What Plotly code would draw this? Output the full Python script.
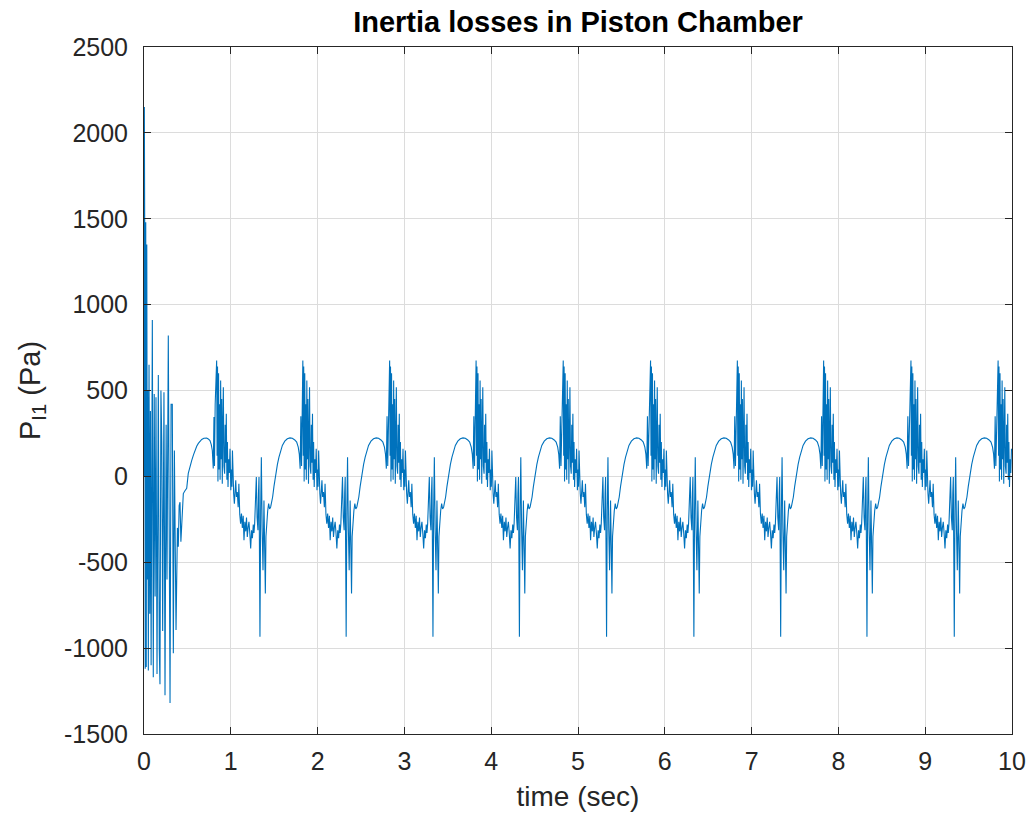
import plotly.graph_objects as go

# ---- start-up transient and the first rising arc ----
transient_t = [0.000, 0.004, 0.009, 0.014, 0.020, 0.026, 0.032, 0.038, 0.044, 0.050,
               0.058, 0.066, 0.074, 0.082, 0.096, 0.107, 0.118, 0.128, 0.138, 0.150,
               0.165, 0.176, 0.184, 0.195, 0.205, 0.215, 0.230, 0.242, 0.255, 0.265,
               0.280, 0.300, 0.312, 0.326, 0.338, 0.350, 0.369, 0.385, 0.395, 0.405,
               0.415, 0.425, 0.435, 0.445, 0.453, 0.470, 0.492, 0.510, 0.530, 0.550,
               0.570, 0.588, 0.607, 0.626, 0.645, 0.665, 0.690, 0.722, 0.745, 0.760,
               0.775, 0.787, 0.798, 0.806, 0.812, 0.820]
transient_v = [0, 2150, 1300, -1120, 1480, -1110, 1350, -600, 500, -1130,
               650, -800, 380, -1100, 910, -1170, 480, -700, 460, -1150,
               590, -1000, -1210, 500, 200, -900, 490, -1275, 300, -600,
               820, -1320, 420, 420, -1030, 150, -895, -300, -410, -170,
               -150, -380, -250, -100, -100, -85, -70, 17, 60, 93,
               125, 151, 175, 192, 206, 215, 222, 223, 216, 209,
               185, 151, 46, 345, 60, 420]

# ---- one repeating cycle, time measured from its big positive spike ----
cycle_dt = [0.000, 0.005, 0.010, 0.015, 0.022, 0.028, 0.034, 0.040, 0.046, 0.052,
            0.058, 0.065, 0.071, 0.077, 0.084, 0.092, 0.098, 0.104, 0.111, 0.118,
            0.124, 0.131, 0.138, 0.146, 0.154, 0.163, 0.170, 0.176, 0.182, 0.188,
            0.196, 0.204, 0.212, 0.220, 0.228, 0.238, 0.248, 0.256, 0.266, 0.276,
            0.286, 0.296, 0.306, 0.315, 0.325, 0.335, 0.344, 0.353, 0.362, 0.372,
            0.382, 0.392, 0.402, 0.412, 0.422, 0.430, 0.438, 0.447, 0.457, 0.466,
            0.476, 0.482, 0.488, 0.494, 0.499, 0.507, 0.515, 0.524, 0.534, 0.545,
            0.553, 0.561, 0.568, 0.576, 0.588, 0.599, 0.610, 0.622, 0.634, 0.645,
            0.660, 0.680, 0.700, 0.718, 0.740, 0.757, 0.785, 0.814, 0.845, 0.872,
            0.900, 0.922, 0.940, 0.952, 0.962, 0.970, 0.978]
cycle_v = [674, 120, 640, -30, 600, 40, 420, -20, 558, 100,
           450, -43, 300, 519, 60, 15, 300, 80, 364, -20,
           200, -62, 100, 20, 161, -81, 40, -60, 151, -40,
           -100, -159, -60, -23, -120, -91, -180, -43, -220, -275,
           -217, -300, -230, -372, -265, -320, -240, -353, -300, -265,
           -330, -420, -314, -360, -280, -330, -275, -180, -4, -240,
           -314, -100, -4, -500, -934, -200, 112, -300, -547, -140,
           -400, -682, -350, -256, -200, -159, -190, -178, -150, -120,
           -60, 15, 70, 112, 150, 180, 205, 219, 224, 222,
           212, 200, 170, 130, 45, 350, 60]

# times of the big positive spike in each cycle
cycle_starts = [0.837, 1.830, 2.830, 3.826, 4.830, 5.836, 6.836, 7.830, 8.836, 9.840]
t_end = 10.0

t = list(transient_t)
v = list(transient_v)
for s in cycle_starts:
    for d, val in zip(cycle_dt, cycle_v):
        if s + d <= t_end:
            t.append(round(s + d, 4))
            v.append(val)

x_ticks = [0, 1, 2, 3, 4, 5, 6, 7, 8, 9, 10]
y_ticks = [-1500, -1000, -500, 0, 500, 1000, 1500, 2000, 2500]

FONT = "Liberation Sans, Arial, Helvetica, sans-serif"
AX = "#262626"

fig = go.Figure()
fig.add_trace(go.Scatter(x=t, y=v, mode="lines",
                         line=dict(color="#0072BD", width=1.1), showlegend=False))

axis_common = dict(showgrid=True, gridcolor="#dcdcdc", gridwidth=1,
                   showline=True, linecolor=AX, linewidth=1, mirror="allticks",
                   ticks="inside", ticklen=7, tickcolor=AX, zeroline=False,
                   automargin=False,
                   tickfont=dict(family=FONT, size=25, color=AX))

fig.update_xaxes(range=[0, 10], tickvals=x_ticks, ticktext=[str(k) for k in x_ticks],
                 ticklabelstandoff=5,
                 title=dict(text="time (sec)", font=dict(family=FONT, size=28, color=AX), standoff=12),
                 **axis_common)
fig.update_yaxes(range=[-1500, 2500], tickvals=y_ticks, ticktext=[str(k) for k in y_ticks],
                 ticklabelstandoff=10,
                 title=dict(text="P<sub>I1</sub> (Pa)", font=dict(family=FONT, size=29, color=AX), standoff=14),
                 **axis_common)

fig.update_layout(
    width=1029, height=819,
    margin=dict(l=144, r=17, t=47, b=85),
    paper_bgcolor="white", plot_bgcolor="white",
    font=dict(family=FONT, color=AX),
    title=dict(text="<b>Inertia losses in Piston Chamber</b>", x=0.5, xref="paper",
               y=1 - 22 / 819, yref="container", yanchor="middle", xanchor="center",
               font=dict(family=FONT, size=29, color="#000000")),
)

fig.write_html("out.html")
